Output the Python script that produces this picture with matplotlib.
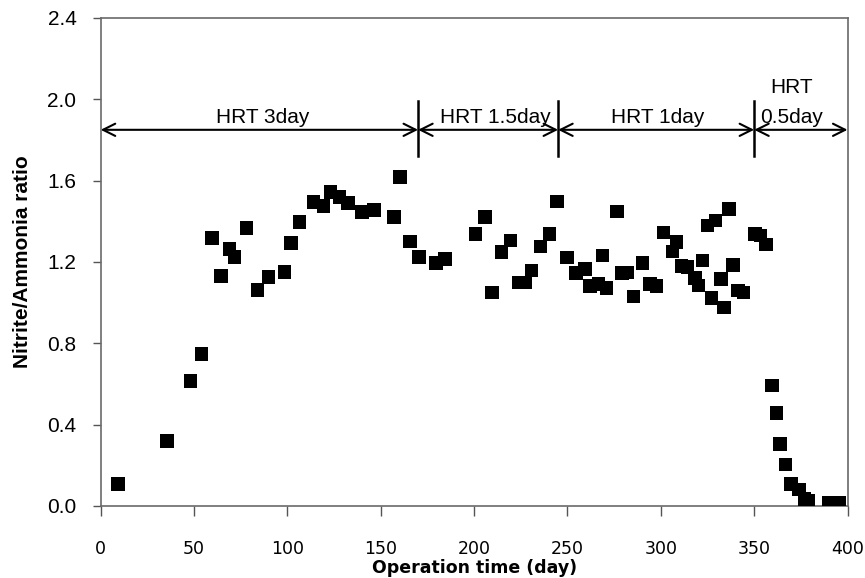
import matplotlib.pyplot as plt
import numpy as np

# operation time (day) and nitrite/ammonia ratio
days = [9.3, 35.4, 48.2, 54.0, 59.5, 64.3, 69.0, 71.7, 78.1, 84.0,
        89.9, 98.4, 102.0, 106.5, 113.9, 119.3, 123.0, 127.8, 132.6, 140.0,
        146.5, 157.0, 160.4, 165.7, 170.5, 179.6, 184.4, 200.8, 205.8, 209.7,
        214.7, 219.5, 223.9, 227.5, 230.7, 235.5, 240.3, 244.4, 249.7, 254.5,
        259.5, 262.2, 266.7, 268.8, 271.0, 276.4, 279.1, 281.8, 285.3, 290.3,
        294.3, 297.8, 301.4, 306.2, 308.5, 311.2, 314.3, 318.3, 320.1, 322.4,
        325.0, 327.2, 329.3, 332.2, 333.9, 336.4, 338.7, 341.4, 344.4, 350.3,
        353.5, 356.2, 359.6, 361.9, 363.7, 366.9, 369.6, 374.0, 377.0, 378.8,
        390.0, 395.7]
ratio = [0.108, 0.32, 0.615, 0.748, 1.318, 1.131, 1.264, 1.225, 1.367, 1.062,
         1.126, 1.151, 1.294, 1.397, 1.495, 1.476, 1.545, 1.52, 1.49, 1.446,
         1.456, 1.42, 1.618, 1.30, 1.225, 1.195, 1.215, 1.338, 1.42, 1.051,
         1.248, 1.305, 1.10, 1.10, 1.157, 1.277, 1.338, 1.497, 1.223, 1.146,
         1.166, 1.082, 1.092, 1.231, 1.072, 1.449, 1.146, 1.149, 1.031, 1.195,
         1.092, 1.081, 1.346, 1.251, 1.297, 1.179, 1.174, 1.12, 1.084, 1.207,
         1.379, 1.022, 1.403, 1.117, 0.977, 1.461, 1.185, 1.059, 1.051, 1.338,
         1.33, 1.285, 0.592, 0.456, 0.305, 0.203, 0.108, 0.08, 0.034, 0.026,
         0.018, 0.015]

# HRT periods
bounds = [0, 170, 245, 350, 400]
hrt_labels = ['HRT 3day', 'HRT 1.5day', 'HRT 1day', '0.5day']
label_x = [86.8, 211.6, 298.2, 370.0]

fig = plt.figure(figsize=(8.65, 5.78), dpi=100)
ax = fig.add_axes([0.1164, 0.1246, 0.8634, 0.8443])

ax.scatter(days, ratio, marker='s', s=95, color='black', edgecolors='none', zorder=3)

ax.set_xlim(0, 400)
ax.set_ylim(0, 2.4)
ax.set_xticks(np.arange(0, 401, 50))
ax.set_yticks(np.arange(0, 2.41, 0.4))
ax.set_yticklabels(['%.1f' % v for v in np.arange(0, 2.41, 0.4)],
                   family='Liberation Sans', fontsize=15)
ax.set_xticklabels([str(v) for v in range(0, 401, 50)],
                   family='DejaVu Sans', fontsize=12.5)
ax.tick_params(axis='y', direction='out', length=6, width=1, color='#555555', pad=11.5)
ax.tick_params(axis='x', direction='out', length=7, width=1, color='#555555', pad=17.5)

for sp in ax.spines.values():
    sp.set_color('#6a6a6a')
    sp.set_linewidth(1.2)

ax.set_xlabel('Operation time (day)', family='DejaVu Sans', fontweight='bold',
              fontsize=12.5, labelpad=1)
ax.set_ylabel('Nitrite/Ammonia ratio', family='Liberation Sans', fontweight='bold',
              fontsize=15, labelpad=11)

# arrows for each HRT period
ya = 1.85
for a, b in zip(bounds[:-1], bounds[1:]):
    ax.annotate('', xy=(a, ya), xytext=(b, ya),
                arrowprops=dict(arrowstyle='<->', color='black', lw=1.5,
                                shrinkA=0, shrinkB=0, mutation_scale=22))
for b in bounds[1:-1]:
    ax.plot([b, b], [1.72, 1.99], color='black', lw=1.8)

for lx, lab in zip(label_x, hrt_labels):
    ax.text(lx, 1.913, lab, ha='center', va='center', family='Liberation Sans',
            fontsize=15)
ax.text(label_x[-1], 2.06, 'HRT', ha='center', va='center',
        family='Liberation Sans', fontsize=15)

fig.savefig('out.png', dpi=100)
